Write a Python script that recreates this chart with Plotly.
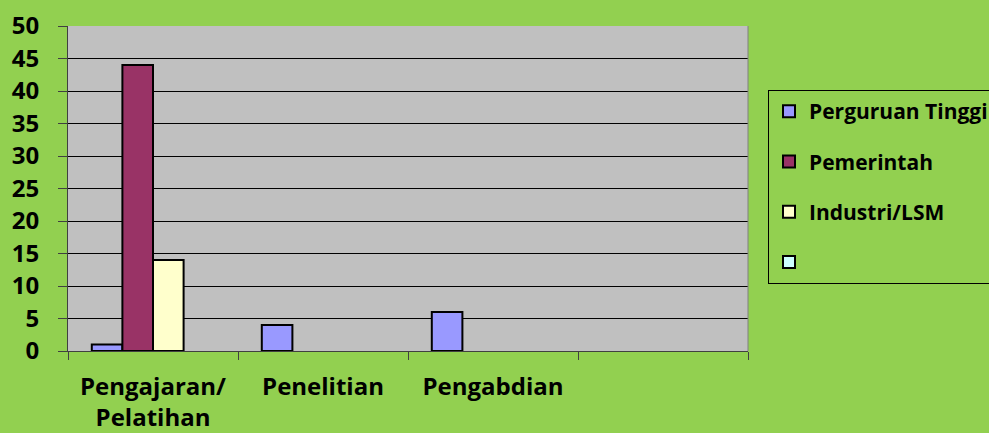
import plotly.graph_objects as go

categories = ["Pengajaran/<br>Pelatihan", "Penelitian", "Pengabdian", " "]
series_names = ["Perguruan Tinggi", "Pemerintah", "Industri/LSM", ""]
perguruan_tinggi = [1, 4, 6, 0]
pemerintah = [44, 0, 0, 0]
industri_lsm = [14, 0, 0, 0]
kosong = [0, 0, 0, 0]
colors = ["#9999FF", "#993366", "#FFFFCC", "#CCFFFF"]
y_ticks = [0, 5, 10, 15, 20, 25, 30, 35, 40, 45, 50]

FONT = "Open Sans, Lato, sans-serif"

fig = go.Figure()
for i, (name, vals) in enumerate(zip(series_names, [perguruan_tinggi, pemerintah, industri_lsm, kosong])):
    fig.add_trace(go.Bar(
        x=categories, y=[v if v != 0 else None for v in vals], name=name,
        marker=dict(color=colors[i], line=dict(color="black", width=2)),
        legendgroup=str(i),
    ))

fig.update_layout(
    width=989, height=433,
    paper_bgcolor="#92D050", plot_bgcolor="#C0C0C0",
    margin=dict(l=68, r=241, t=26, b=82, autoexpand=False),
    barmode="group", bargap=0.28, bargroupgap=0,
    font=dict(family=FONT, color="black"),
    legend=dict(
        xref="container", yref="container",
        x=768 / 989, y=1 - 90 / 433, xanchor="left", yanchor="top",
        bgcolor="#92D050", bordercolor="black", borderwidth=1,
        font=dict(size=21, family=FONT, weight="bold"),
        tracegroupgap=20, itemwidth=30,
    ),
    showlegend=True,
)
fig.update_xaxes(
    type="category", categoryorder="array", categoryarray=categories,
    tickson="boundaries", ticks="outside", ticklen=8, tickcolor="#404040",
    showgrid=False, showline=True, linecolor="#404040", linewidth=1,
    tickfont=dict(size=24, weight="bold", family=FONT),
    ticklabelstandoff=14, automargin=False,
    mirror=False,
)
fig.update_yaxes(
    range=[0, 50], tickvals=y_ticks, ticks="outside", ticklen=9, tickcolor="#404040",
    showgrid=True, gridcolor="black", gridwidth=1,
    showline=True, linecolor="#404040", linewidth=1, mirror=False,
    tickfont=dict(size=24, weight="bold", family=FONT), zeroline=False,
    ticklabelstandoff=14, automargin=False,
)
fig.add_shape(type="line", xref="paper", yref="paper", x0=1, x1=1, y0=0, y1=1,
              line=dict(color="#808080", width=1))
fig.write_html("out.html", config={"displayModeBar": False},
               post_script="document.body.style.margin='0';document.body.style.overflow='hidden';")
